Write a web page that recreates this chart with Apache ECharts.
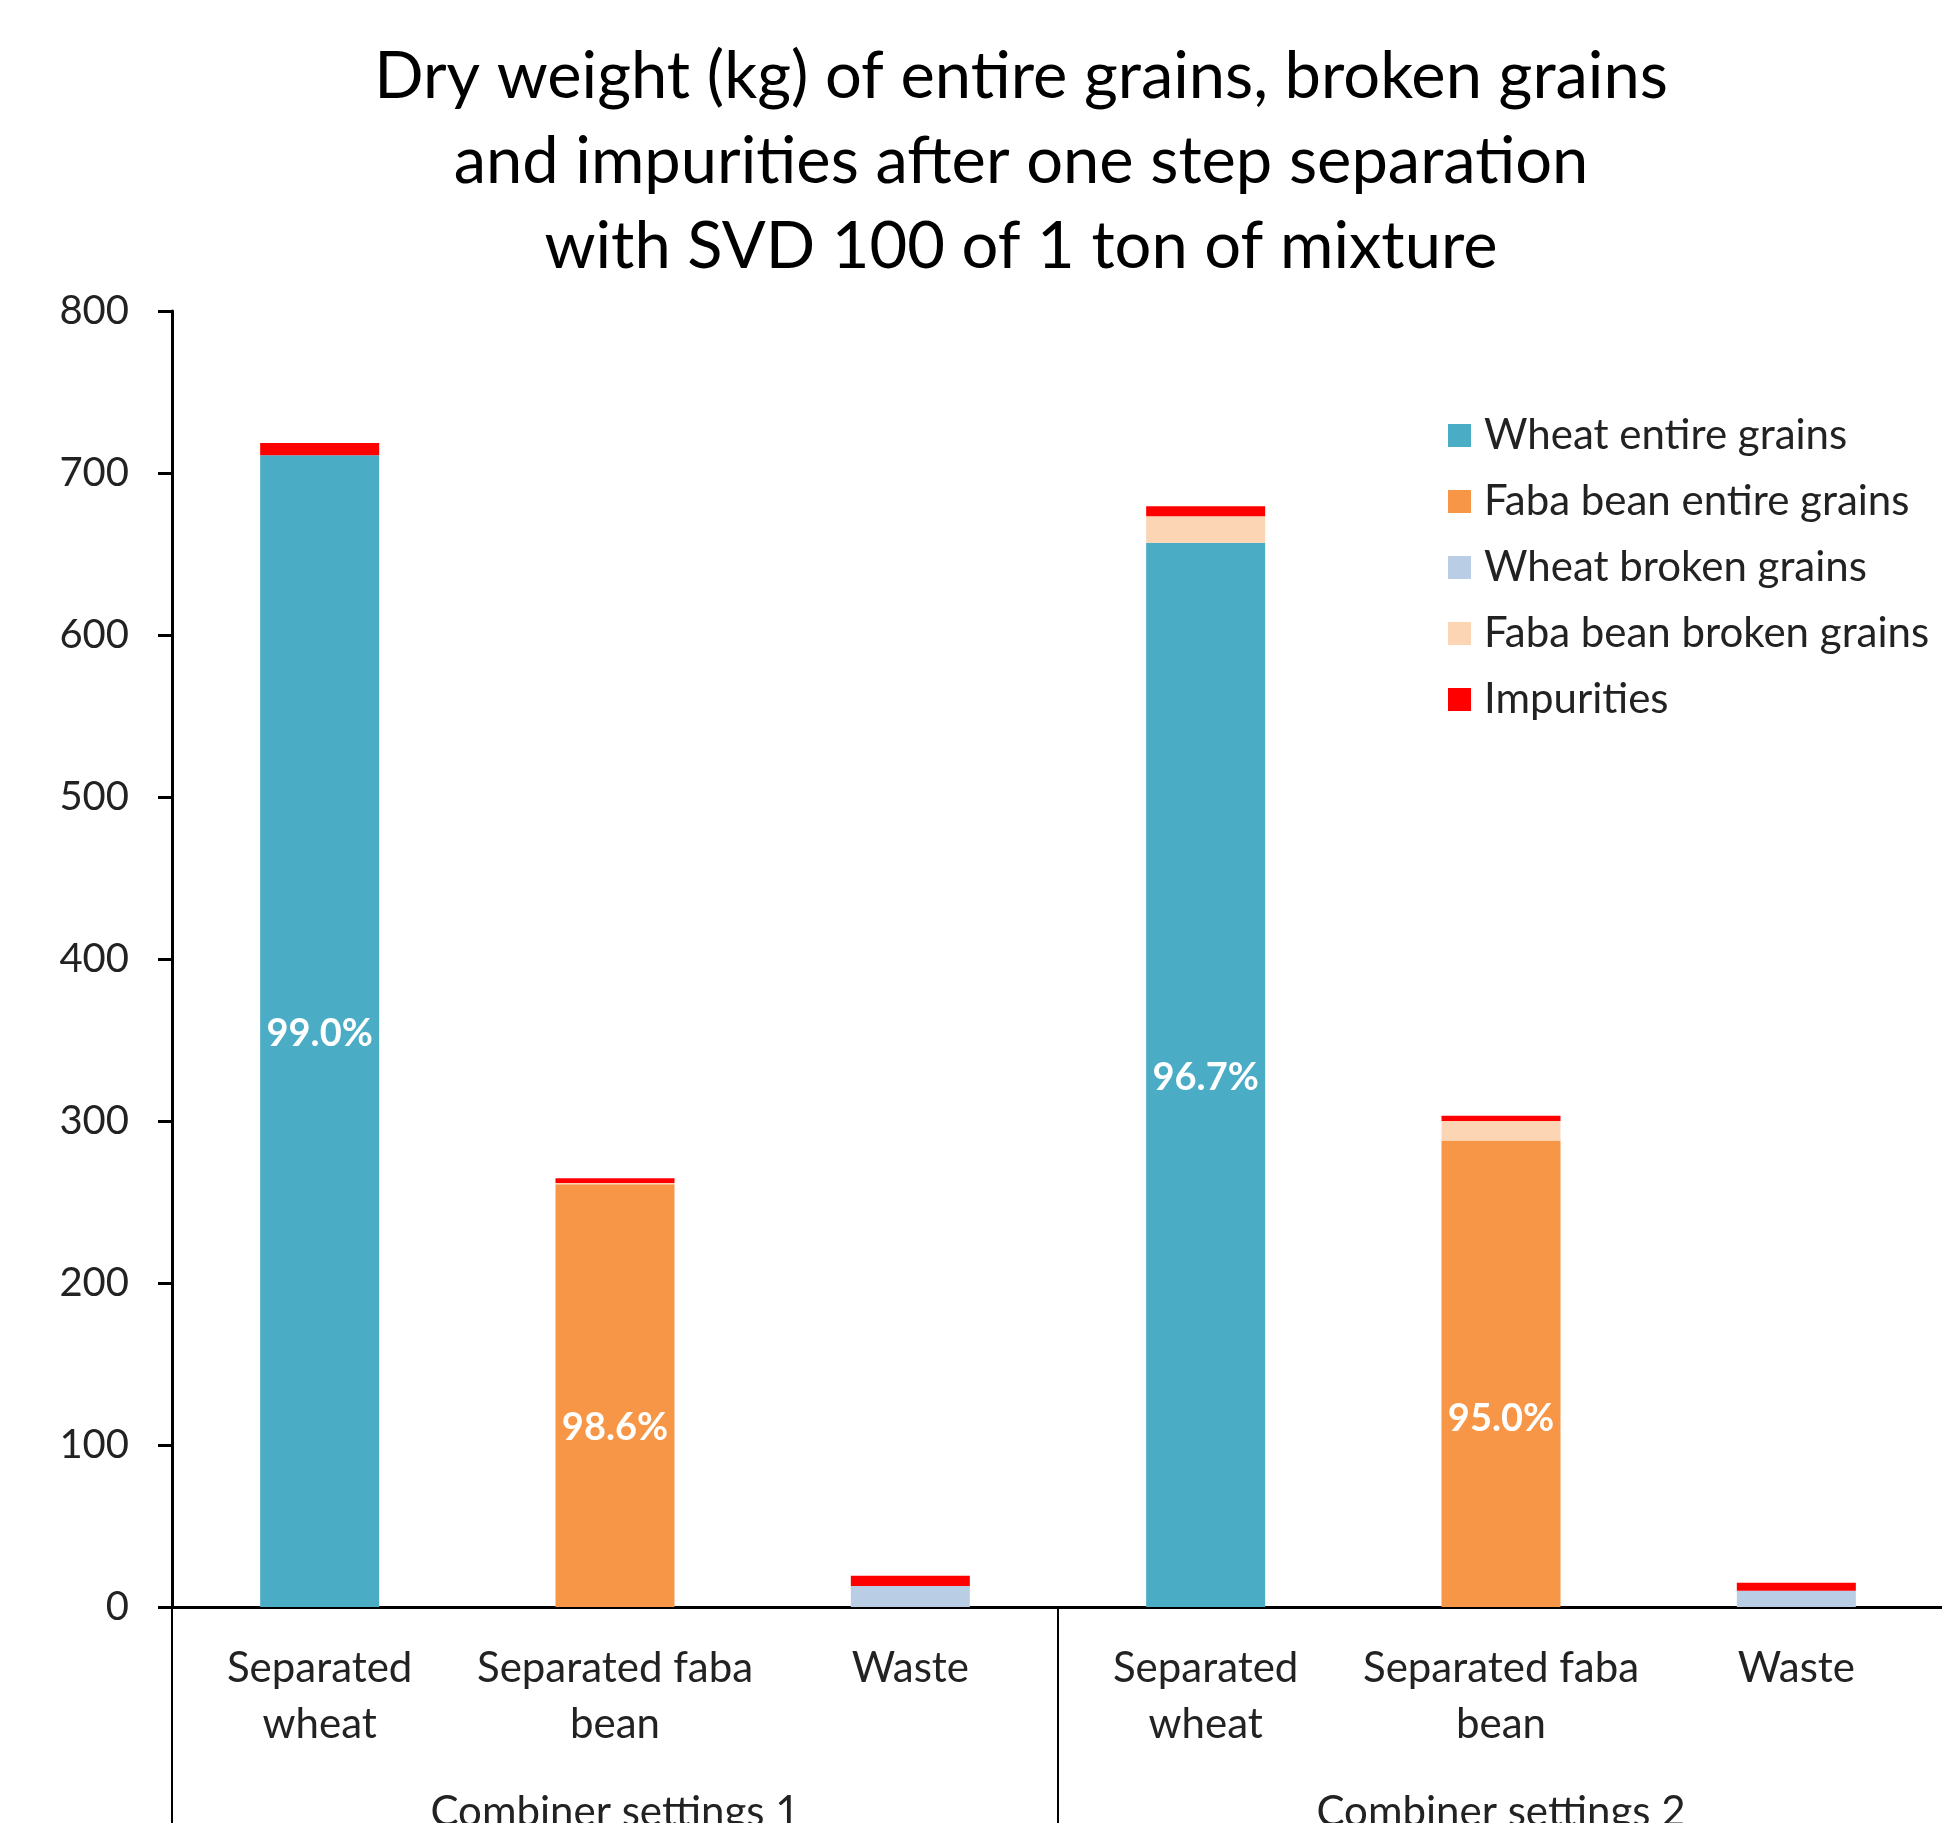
<!DOCTYPE html>
<html>
<head>
<meta charset="utf-8">
<script src="https://cdn.jsdelivr.net/npm/echarts@6/dist/echarts.min.js"></script>
<style>
html,body{margin:0;padding:0;background:#fff;}
#chart{width:1942px;height:1823px;}
</style>
</head>
<body>
<div id="chart"></div>
<script>
var categories = ["Separated\nwheat", "Separated faba\nbean", "Waste", "Separated\nwheat", "Separated faba\nbean", "Waste"];
var groups = ["Combiner settings 1", "Combiner settings 2"];
var seriesNames = ["Wheat entire grains", "Faba bean entire grains", "Wheat broken grains", "Faba bean broken grains", "Impurities"];
var wheatEntire = [711, 0, 0, 657, 0, 0];
var fabaEntire = [0, 261, 0, 0, 288, 0];
var wheatBroken = [0, 0, 13, 0, 0, 10];
var fabaBroken = [0, 0.7, 0, 16.3, 12, 0];
var impurities = [7.5, 3, 6.3, 6.1, 3.3, 5];
var pctLabels = ["99.0%", "98.6%", "", "96.7%", "95.0%", ""];
var yTicks = {min: 0, max: 800, interval: 100};
var titleText = "Dry weight (kg) of entire grains, broken grains\nand impurities after one step separation\nwith SVD 100 of 1 ton of mixture";

var colors = ["#4BACC6", "#F79646", "#B9CDE5", "#FCD5B5", "#FF0000"];
var FONT = "Lato";
var seriesData = [wheatEntire, fabaEntire, wheatBroken, fabaBroken, impurities];
// label vertical nudges (px), styling only
var labelNudge = [3, 32, 0, 3, 45, 0];

function makeSeries(idx) {
  var s = {
    name: seriesNames[idx],
    type: "bar",
    stack: "total",
    xAxisIndex: 0,
    barWidth: 119,
    itemStyle: {color: colors[idx]},
    emphasis: {disabled: true},
    animation: false
  };
  if (idx === 0 || idx === 1) {
    s.data = seriesData[idx].map(function (v, i) {
      var item = {value: v};
      if (v > 0 && pctLabels[i]) {
        item.label = {
          show: true,
          position: "inside",
          offset: [0, labelNudge[i]],
          color: "#fff",
          fontFamily: FONT,
          fontWeight: "bold",
          fontSize: 38,
          formatter: pctLabels[i]
        };
      }
      return item;
    });
  } else {
    s.data = seriesData[idx];
  }
  return s;
}

var chart = echarts.init(document.getElementById("chart"), null, {renderer: "canvas"});
chart.setOption({
  backgroundColor: "#fff",
  animation: false,
  title: {
    text: titleText,
    left: 1016,
    top: 30,
    textAlign: "center",
    textStyle: {fontFamily: FONT, fontSize: 65, fontWeight: "normal", color: "#000", lineHeight: 85}
  },
  legend: {
    orient: "vertical",
    left: 1443,
    top: 409,
    itemWidth: 23,
    itemHeight: 23,
    itemGap: 23,
    icon: "rect",
    data: seriesNames,
    textStyle: {fontFamily: FONT, fontSize: 42, color: "#222", lineHeight: 43, padding: [0, 0, 0, 8]},
    selectedMode: false
  },
  grid: {left: 172, top: 311, width: 1772, bottom: 216, containLabel: false, outerBoundsMode: "none"},
  xAxis: [
    {
      type: "category",
      data: categories,
      position: "bottom",
      axisLine: {show: true, lineStyle: {color: "#000", width: 3}},
      axisTick: {show: false},
      axisLabel: {fontFamily: FONT, fontSize: 42, color: "#222", lineHeight: 56, margin: 33, interval: 0}
    },
    {
      type: "category",
      data: groups,
      position: "bottom",
      axisLine: {show: false},
      axisTick: {show: true, length: 216, lineStyle: {color: "#000", width: 2}},
      axisLabel: {fontFamily: FONT, fontSize: 42, color: "#222", margin: 184, interval: 0},
      splitLine: {show: false}
    }
  ],
  yAxis: {
    type: "value",
    min: yTicks.min,
    max: yTicks.max,
    interval: yTicks.interval,
    axisLine: {show: true, lineStyle: {color: "#000", width: 3}},
    axisTick: {show: true, length: 14, lineStyle: {color: "#000", width: 3}},
    axisLabel: {fontFamily: FONT, fontSize: 40, color: "#222", margin: 43},
    splitLine: {show: false}
  },
  series: [0, 1, 2, 3, 4].map(makeSeries)
});
</script>
</body>
</html>
